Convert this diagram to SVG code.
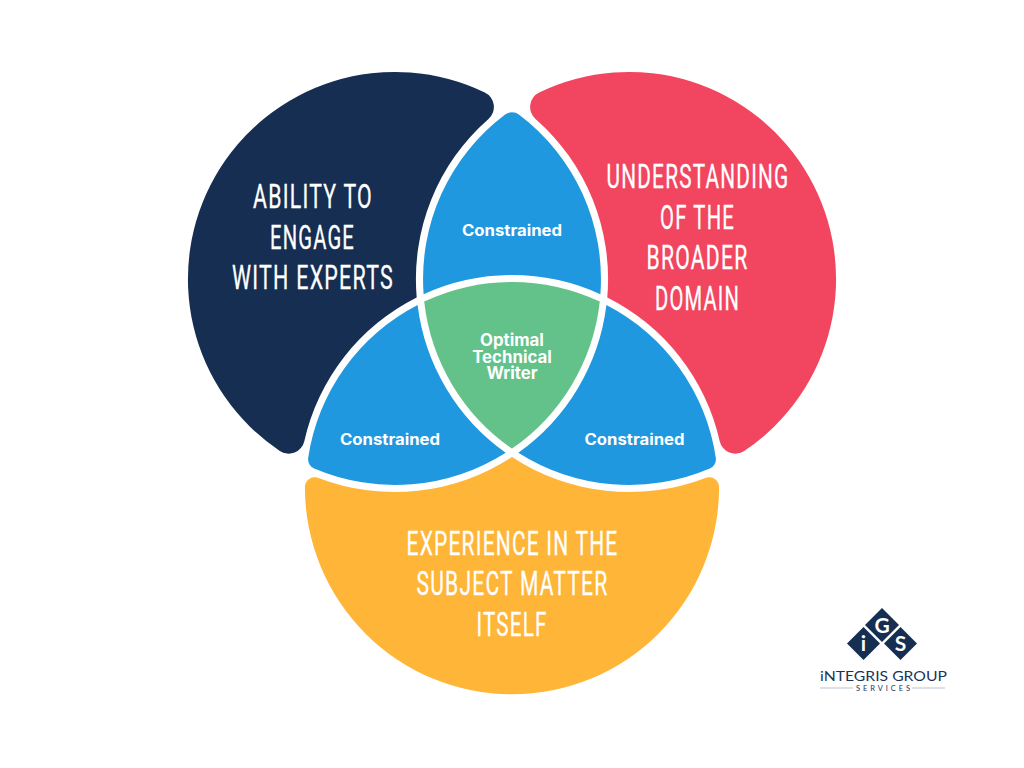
<svg xmlns="http://www.w3.org/2000/svg" width="1024" height="768" viewBox="0 0 1024 768">
<style>
.big{font-family:"Liberation Sans Narrow","Roboto","Liberation Sans",sans-serif;font-size:34px;letter-spacing:2px;fill:#fff;stroke:#fff;stroke-width:.35px;text-anchor:middle}
.small{font-family:"Inter","Liberation Sans",sans-serif;font-weight:700;font-size:15.5px;fill:#fff;text-anchor:middle}
.tight{font-size:16.800px}
.navy{fill:#162e52}
.blue{fill:#1f98e0}
.logo{font-family:"Lato","Liberation Sans",sans-serif;fill:#1b3358;text-anchor:middle}
.mark{font-family:"Lato","Liberation Sans",sans-serif;font-weight:700;font-size:21px;fill:#fff;text-anchor:middle}
</style>
<rect width="1024" height="768" fill="#fff"/>
<g id="node-engage">
<path class="navy" d="M484.8,92.5A207,207 0 0 0 279.8,451A16,16 0 0 0 304.3,441.2A213,213 0 0 1 416.7,297.4A213,213 0 0 1 488.5,118.9A16,16 0 0 0 484.8,92.5Z"/>
<text class="big" x="313" y="207.500" textLength="120" lengthAdjust="spacingAndGlyphs">ABILITY TO</text>
<text class="big" x="312.500" y="248.500" textLength="85" lengthAdjust="spacingAndGlyphs">ENGAGE</text>
<text class="big" x="313" y="289.300" textLength="162" lengthAdjust="spacingAndGlyphs">WITH EXPERTS</text>
</g>
<g id="node-domain">
<path fill="#f24560" d="M539.2,92.5A207,207 0 0 1 744.2,451A16,16 0 0 1 719.7,441.2A213,213 0 0 0 607.3,297.4A213,213 0 0 0 535.5,118.9A16,16 0 0 1 539.2,92.5Z"/>
<text class="big" x="698" y="187.700" textLength="183" lengthAdjust="spacingAndGlyphs">UNDERSTANDING</text>
<text class="big" x="697.500" y="228.500" textLength="75" lengthAdjust="spacingAndGlyphs">OF THE</text>
<text class="big" x="697.500" y="269" textLength="102" lengthAdjust="spacingAndGlyphs">BROADER</text>
<text class="big" x="697.500" y="310" textLength="85" lengthAdjust="spacingAndGlyphs">DOMAIN</text>
</g>
<g id="node-subject">
<path fill="#ffb537" d="M512,457A213,213 0 0 1 318.5,477.9A10,10 0 0 0 304.9,487.2A207,207 0 1 0 719.1,487.2A10,10 0 0 0 705.5,477.9A213,213 0 0 1 512,457Z"/>
<text class="big" x="512.500" y="554.500" textLength="212" lengthAdjust="spacingAndGlyphs">EXPERIENCE IN THE</text>
<text class="big" x="512.500" y="595" textLength="192" lengthAdjust="spacingAndGlyphs">SUBJECT MATTER</text>
<text class="big" x="512" y="635.700" textLength="71" lengthAdjust="spacingAndGlyphs">ITSELF</text>
</g>
<g id="node-constrained-top">
<path class="blue" d="M504.8,114.7A12,12 0 0 1 519.2,114.7A206,206 0 0 1 600.4,294.2A213,213 0 0 0 423.6,294.2A206,206 0 0 1 504.8,114.7Z"/>
<text class="small" x="512" y="235.500" textLength="100" lengthAdjust="spacingAndGlyphs">Constrained</text>
</g>
<g id="node-constrained-left">
<path class="blue" d="M417.6,305A206,206 0 0 0 308.2,457.8A10,10 0 0 0 314.2,468.5A206,206 0 0 0 505.7,452.7A213,213 0 0 1 417.6,305Z"/>
<text class="small" x="390" y="444.500" textLength="100" lengthAdjust="spacingAndGlyphs">Constrained</text>
</g>
<g id="node-constrained-right">
<path class="blue" d="M606.4,305A206,206 0 0 1 715.8,457.8A10,10 0 0 1 709.8,468.5A206,206 0 0 1 518.3,452.7A213,213 0 0 0 606.4,305Z"/>
<text class="small" x="634.500" y="444.500" textLength="100" lengthAdjust="spacingAndGlyphs">Constrained</text>
</g>
<g id="node-optimal">
<path fill="#63c18a" d="M424.2,301.6A206,206 0 0 1 599.8,301.6A206,206 0 0 1 512,448.6A206,206 0 0 1 424.2,301.6Z"/>
<text class="small tight"><tspan x="512" y="346">Optimal</tspan><tspan x="512" y="362.700">Technical</tspan><tspan x="512" y="379">Writer</tspan></text>
</g>
<g id="logo">
<polygon class="navy" points="882,608 899,625 882,642 865,625"/>
<polygon class="navy" points="863.500,627 880,643.500 863.500,660 847,643.500"/>
<polygon class="navy" points="900.500,627 917,643.500 900.500,660 884,643.500"/>
<text class="mark" x="882" y="632.500">G</text>
<text class="mark" x="863.500" y="651">i</text>
<text class="mark" x="900.500" y="651">S</text>
<text class="logo" x="883.500" y="680.500" font-size="13.500" textLength="127" lengthAdjust="spacingAndGlyphs">iNTEGRIS GROUP</text>
<text class="logo" x="883" y="691" font-size="7.500" textLength="54" lengthAdjust="spacing">SERVICES</text>
<rect x="820" y="687.500" width="33" height="1" fill="#b9c3d0"/>
<rect x="912" y="687.500" width="33" height="1" fill="#b9c3d0"/>
</g>
</svg>
